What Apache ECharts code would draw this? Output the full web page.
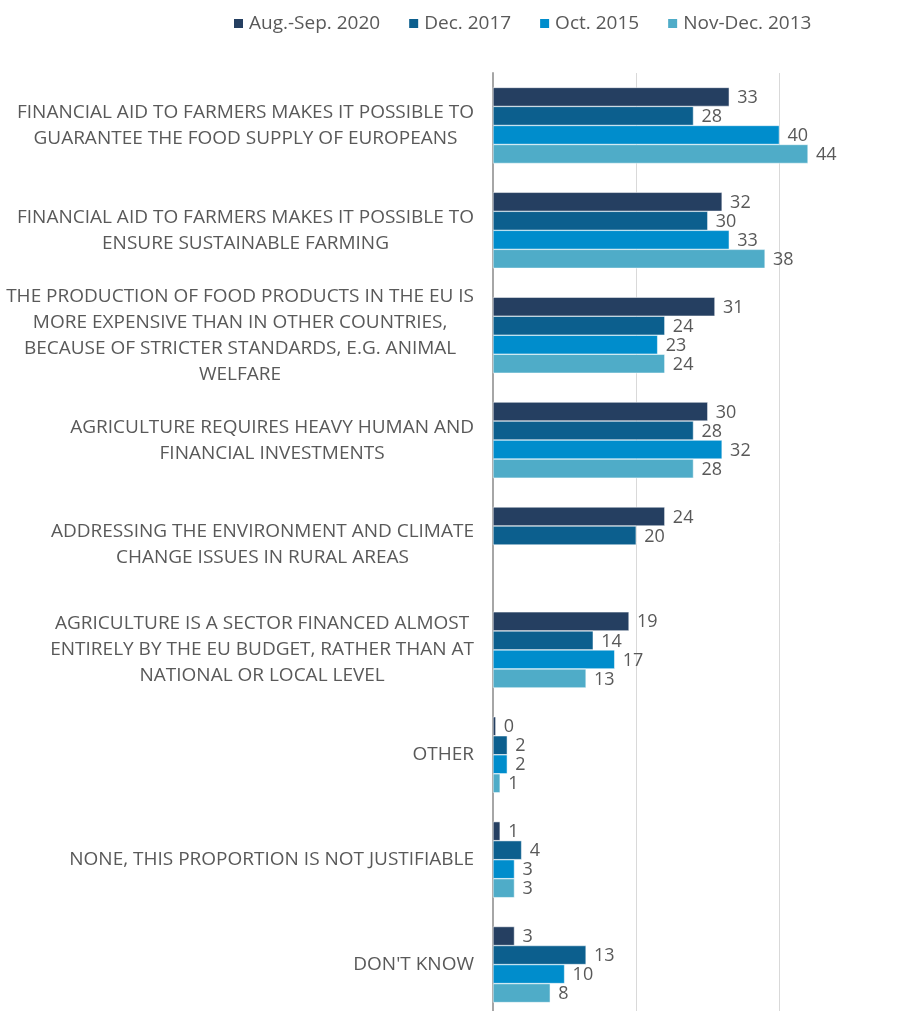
<!DOCTYPE html>
<html>
<head>
<meta charset="utf-8">
<script src="https://cdn.jsdelivr.net/npm/echarts@6/dist/echarts.min.js"></script>
<style>
  html, body { margin: 0; padding: 0; background: #fff; }
  #chart { width: 911px; height: 1011px; }
</style>
</head>
<body>
<div id="chart"></div>
<script>
// categories, top to bottom
const categories = [
  'FINANCIAL AID TO FARMERS MAKES IT POSSIBLE TO\nGUARANTEE THE FOOD SUPPLY OF EUROPEANS',
  'FINANCIAL AID TO FARMERS MAKES IT POSSIBLE TO\nENSURE SUSTAINABLE FARMING',
  'THE PRODUCTION OF FOOD PRODUCTS IN THE EU IS\nMORE EXPENSIVE THAN IN OTHER COUNTRIES,\nBECAUSE OF STRICTER STANDARDS, E.G. ANIMAL\nWELFARE',
  'AGRICULTURE REQUIRES HEAVY HUMAN AND\nFINANCIAL INVESTMENTS',
  'ADDRESSING THE ENVIRONMENT AND CLIMATE\nCHANGE ISSUES IN RURAL AREAS',
  'AGRICULTURE IS A SECTOR FINANCED ALMOST\nENTIRELY BY THE EU BUDGET, RATHER THAN AT\nNATIONAL OR LOCAL LEVEL',
  'OTHER',
  'NONE, THIS PROPORTION IS NOT JUSTIFIABLE',
  "DON'T KNOW"
]

const seriesNames = ['Aug.-Sep. 2020', 'Dec. 2017', 'Oct. 2015', 'Nov-Dec. 2013']
const aug2020 = [33, 32, 31, 30, 24, 19, 0.4, 1, 3]
const dec2017 = [28, 30, 24, 28, 20, 14, 2, 4, 13]
const oct2015 = [40, 33, 23, 32, null, 17, 2, 3, 10]
const nov2013 = [44, 38, 24, 28, null, 13, 1, 3, 8]

const colors = ['#253f61', '#0c5f8e', '#008dcc', '#4facc8']
const textColor = '#595959'
const font = 'Open Sans'

const chart = echarts.init(document.getElementById('chart'))

function makeSeries(name, data) {
    return {
        name: name,
        type: 'bar',
        data: data,
        barGap: '0%',
        barCategoryGap: '27.5%',
        itemStyle: {
            borderColor: '#ffffff',
            borderWidth: 0.5
        },
        label: {
            show: true,
            position: 'right',
            distance: 8,
            offset: [0, 1],
            color: textColor,
            fontFamily: font,
            fontSize: 18,
            formatter: (p) => Math.round(p.value)
        }
    }
}

const option = {
    color: colors,
    animation: false,
    legend: {
        top: 9,
        left: 227,
        itemWidth: 11,
        itemHeight: 11,
        itemGap: 27,
        icon: 'rect',
        textStyle: {
            color: textColor,
            fontFamily: font,
            fontSize: 19
        },
        data: seriesNames
    },
    grid: {
        left: 493,
        top: 73,
        width: 429.6,
        height: 944,
        containLabel: false,
        outerBoundsMode: 'none'
    },
    xAxis: {
        type: 'value',
        min: 0,
        max: 60,
        interval: 20,
        axisLabel: { show: false },
        axisLine: { show: false },
        axisTick: { show: false },
        splitLine: {
            showMaxLine: false,
            lineStyle: { color: '#d9d9d9', width: 1 }
        }
    },
    yAxis: {
        type: 'category',
        inverse: true,
        data: categories,
        axisTick: { show: false },
        axisLine: {
            lineStyle: { color: '#a6a6a6', width: 2 }
        },
        axisLabel: {
            color: textColor,
            fontFamily: font,
            fontSize: 19,
            lineHeight: 26,
            align: 'right',
            margin: 19,
            interval: 0,
            // lines centred inside a right-aligned block
            formatter: (v) => v.split('\n').map((s) => '{c|' + s + '}').join('\n'),
            rich: {
                c: {
                    align: 'center',
                    color: textColor,
                    fontFamily: font,
                    fontSize: 19,
                    lineHeight: 26
                }
            }
        }
    },
    series: [
        makeSeries(seriesNames[0], aug2020),
        makeSeries(seriesNames[1], dec2017),
        makeSeries(seriesNames[2], oct2015),
        makeSeries(seriesNames[3], nov2013)
    ]
}

chart.setOption(option)
window.addEventListener('resize', function() {
    chart.resize()
})
</script>
</body>
</html>
